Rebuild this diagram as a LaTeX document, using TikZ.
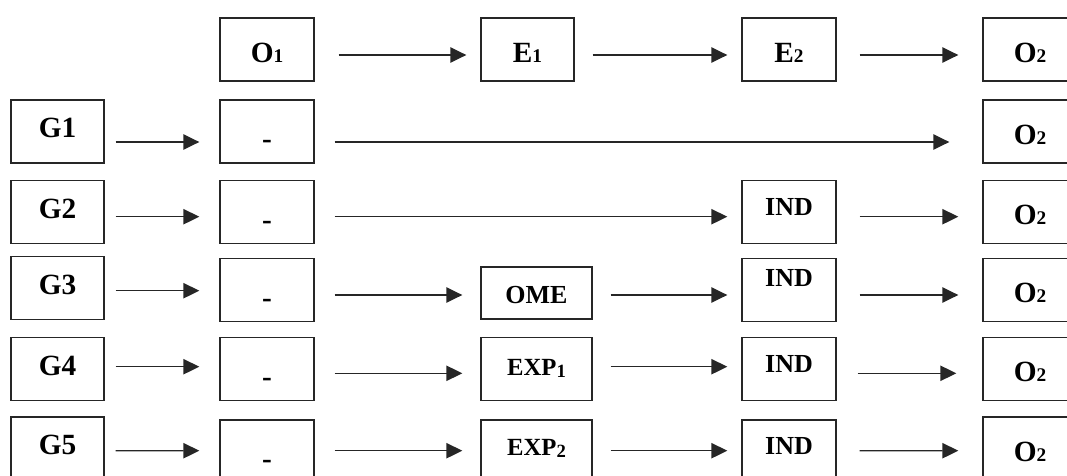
\documentclass[tikz,border=0pt]{standalone}
\usepackage{fontspec}
\setmainfont{Liberation Serif}
\usetikzlibrary{arrows.meta,calc}
\newcommand\sbd[1]{{\fontsize{14.5}{14}\selectfont #1}}
\newcommand\sbl[1]{\raisebox{-2pt}{\fontsize{14}{14}\selectfont #1}}
\tikzset{
  box/.style={draw=black!85, line width=1pt, inner sep=0pt, minimum height=47.25pt, text depth=0pt},
  wG/.style={minimum width=69.75pt},
  wM/.style={minimum width=70.5pt},
  wX/.style={minimum width=83.25pt},
  gtx/.style={font={\bfseries\fontsize{22}{24}\selectfont}, text height=9pt},
  oetx/.style={font={\bfseries\fontsize{22}{24}\selectfont}, text height=18.75pt},
  dtx/.style={font={\bfseries\fontsize{22}{24}\selectfont}, text height=25.5pt},
  indtx/.style={font={\bfseries\fontsize{19.5}{21}\selectfont}, text height=4.5pt},
  omtx/.style={font={\bfseries\fontsize{19.5}{21}\selectfont}, text height=15pt},
  exptx/.style={font={\bfseries\fontsize{18.5}{20}\selectfont}, text height=9pt},
  arr/.style={draw=black!85, line width=1pt, -{Triangle[length=12pt,width=11.5pt]}}
}
\begin{document}
\begin{tikzpicture}[x=0.75pt,y=-0.75pt]
\useasboundingbox (0,0) rectangle (1067,475);
\clip (0,0) rectangle (1067,475);
% row 0
\node[box,wM,oetx] (o1) at (267,49.5) {O\sbd{1}};
\node[box,wG,oetx] (e1) at (527.5,49.5) {E\sbd{1}};
\node[box,wM,oetx] (e2) at (789,49.5) {E\sbd{2}};
\node[box,wM,oetx] (o20) at (1030,49.5) {O\sbd{2}};
% row 1
\node[box,wG,gtx] (g1) at (57.5,131.5) {G1};
\node[box,wM,dtx] (m1) at (267,131.5) {-};
\node[box,wM,oetx] (o21) at (1030,131.5) {O\sbd{2}};
% row 2
\node[box,wG,gtx] (g2) at (57.5,212) {G2};
\node[box,wM,dtx] (m2) at (267,212) {-};
\node[box,wM,indtx] (i2) at (789,212) {IND};
\node[box,wM,oetx] (o22) at (1030,212) {O\sbd{2}};
% row 3
\node[box,wG,gtx] (g3) at (57.5,288) {G3};
\node[box,wM,dtx] (m3) at (267,290) {-};
\node[box,wX,omtx,minimum height=39pt] (ome) at (536.5,293) {OME};
\node[box,wM,indtx,text height=0pt,text depth=5pt] (i3) at (789,290) {IND};
\node[box,wM,oetx] (o23) at (1030,290) {O\sbd{2}};
% row 4
\node[box,wG,gtx] (g4) at (57.5,369) {G4};
\node[box,wM,dtx] (m4) at (267,369) {-};
\node[box,wX,exptx] (x1) at (536.5,369) {EXP\sbl{1}};
\node[box,wM,indtx] (i4) at (789,369) {IND};
\node[box,wM,oetx] (o24) at (1030,369) {O\sbd{2}};
% row 5
\node[box,wG,gtx] (g5) at (57.5,448.5) {G5};
\node[box,wM,dtx] (m5) at (267,451.5) {-};
\node[box,wX,exptx,text height=5.25pt] (x2) at (536.5,451.5) {EXP\sbl{2}};
\node[box,wM,indtx,text height=3.75pt] (i5) at (789,451.5) {IND};
\node[box,wM,oetx] (o25) at (1030,448.5) {O\sbd{2}};
% arrows row 0
\draw[arr] ($(o1.east)+(24,5.5)$) -- ($(e1.west)+(-14,5.5)$);
\draw[arr] ($(e1.east)+(18,5.5)$) -- ($(e2.west)+(-14,5.5)$);
\draw[arr] ($(e2.east)+(23,5.5)$) -- ($(o20.west)+(-24,5.5)$);
% row 1
\draw[arr] ($(g1.east)+(11,10.5)$) -- ($(m1.west)+(-20,10.5)$);
\draw[arr] ($(m1.east)+(20,10.5)$) -- ($(o21.west)+(-33,10.5)$);
% row 2
\draw[arr] ($(g2.east)+(11,4.7)$) -- ($(m2.west)+(-20,4.7)$);
\draw[arr] ($(m2.east)+(20,4.7)$) -- ($(i2.west)+(-14,4.7)$);
\draw[arr] ($(i2.east)+(23,4.7)$) -- ($(o22.west)+(-24,4.7)$);
% row 3
\draw[arr] ($(g3.east)+(11,2.7)$) -- ($(m3.west)+(-20,0.7)$);
\draw[arr] ($(m3.east)+(20,5)$) -- ($(ome.west)+(-18,2)$);
\draw[arr] ($(ome.east)+(18,2)$) -- ($(i3.west)+(-14,5)$);
\draw[arr] ($(i3.east)+(23,5)$) -- ($(o23.west)+(-24,5)$);
% row 4
\draw[arr] ($(g4.east)+(11,-2.3)$) -- ($(m4.west)+(-20,-2.3)$);
\draw[arr] ($(m4.east)+(20,4.3)$) -- ($(x1.west)+(-18,4.3)$);
\draw[arr] ($(x1.east)+(18,-2.3)$) -- ($(i4.west)+(-14,-2.3)$);
\draw[arr] ($(i4.east)+(21,4.3)$) -- ($(o24.west)+(-26,4.3)$);
% row 5
\draw[arr] ($(g5.east)+(11,2.2)$) -- ($(m5.west)+(-20,-0.8)$);
\draw[arr] ($(m5.east)+(20,-0.8)$) -- ($(x2.west)+(-18,-0.8)$);
\draw[arr] ($(x2.east)+(18,-0.8)$) -- ($(i5.west)+(-14,-0.8)$);
\draw[arr] ($(i5.east)+(23,-0.8)$) -- ($(o25.west)+(-24,2.2)$);
\end{tikzpicture}
\end{document}
